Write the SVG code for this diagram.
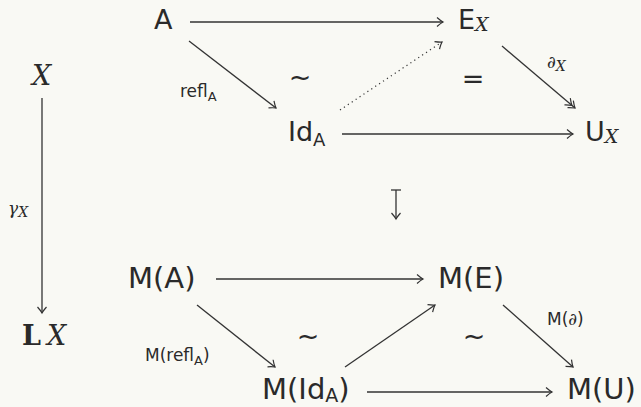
<svg xmlns="http://www.w3.org/2000/svg" width="641" height="407" viewBox="0 0 641 407">
<defs>
<style>
.bg{fill:#f9f9f4}
.t{font-family:"DejaVu Sans","Noto Sans",sans-serif;font-size:27px;fill:#2a2a2a}
.b{font-size:29px}
.s{font-family:"DejaVu Sans","Noto Sans",sans-serif;font-size:17px;fill:#2a2a2a}
.cal{font-family:"DejaVu Serif","Liberation Serif",serif;font-style:italic}
.e{stroke:#333;stroke-width:1.3;fill:none}
.dot{stroke:#333;stroke-width:1.2;fill:none;stroke-dasharray:1.2 3.5}
</style>
<marker id="ah" viewBox="-8 -6 10 12" markerWidth="10" markerHeight="12" refX="0" refY="0" orient="auto" markerUnits="userSpaceOnUse">
<path d="M-6,-4.5 Q-2,-1 0,0 Q-2,1 -6,4.5" stroke="#333" stroke-width="1.2" fill="none"/>
</marker>
<marker id="ah2" viewBox="-12 -6 14 12" markerWidth="14" markerHeight="12" refX="0" refY="0" orient="auto" markerUnits="userSpaceOnUse">
<path d="M-6,-4.5 Q-2,-1 0,0 Q-2,1 -6,4.5 M-10,-4.5 Q-6,-1 -4,0 Q-6,1 -10,4.5" stroke="#333" stroke-width="1.2" fill="none"/>
</marker>
</defs>
<rect class="bg" x="0" y="0" width="641" height="407"/>

<g id="connectors">
<line class="e" x1="190" y1="22" x2="443" y2="22" marker-end="url(#ah)"/>
<line class="e" x1="189" y1="41" x2="276" y2="108" marker-end="url(#ah)"/>
<line class="dot" x1="340" y1="110" x2="442" y2="42" marker-end="url(#ah)"/>
<line class="e" x1="342" y1="134" x2="573" y2="134" marker-end="url(#ah)"/>
<line class="e" x1="502" y1="46" x2="575" y2="108" marker-end="url(#ah2)"/>
<line class="e" x1="42" y1="98" x2="42" y2="313" marker-end="url(#ah)"/>
<line class="e" x1="396" y1="190" x2="396" y2="219" marker-end="url(#ah)"/>
<line class="e" x1="391" y1="190" x2="401" y2="190"/>
<line class="e" x1="216" y1="279" x2="423" y2="279" marker-end="url(#ah)"/>
<line class="e" x1="197" y1="305" x2="275" y2="367" marker-end="url(#ah)"/>
<line class="e" x1="345" y1="367" x2="435" y2="305" marker-end="url(#ah)"/>
<line class="e" x1="367" y1="392" x2="552" y2="392" marker-end="url(#ah)"/>
<line class="e" x1="503" y1="305" x2="573" y2="367" marker-end="url(#ah)"/>
</g>

<g id="labels">
<text class="s" x="180" y="97">refl<tspan font-size="13" dy="4">A</tspan></text>
<text class="s" x="547" y="68"><tspan class="cal">∂</tspan><tspan class="cal" font-size="14" dy="3">X</tspan></text>
<text class="s" x="8" y="214"><tspan class="cal">γ</tspan><tspan class="cal" font-size="14" dy="3">X</tspan></text>
<text class="s" x="145" y="361">M(refl<tspan font-size="13" dy="4">A</tspan><tspan dy="-4">)</tspan></text>
<text class="s" x="547" y="325">M(<tspan class="cal">∂</tspan>)</text>
<text class="t" x="300" y="86" text-anchor="middle" font-size="22">~</text>
<text class="t" x="473" y="88" text-anchor="middle">=</text>
<text class="t" x="308" y="345" text-anchor="middle" font-size="22">~</text>
<text class="t" x="474" y="345" text-anchor="middle" font-size="22">~</text>
</g>

<g id="node-A"><text class="t" x="154" y="29">A</text></g>
<g id="node-EX"><text class="t" x="458" y="29">E<tspan class="cal" font-size="19" dy="2">X</tspan></text></g>
<g id="node-IdA"><text class="t" x="288" y="141">Id<tspan font-size="18" dy="5">A</tspan></text></g>
<g id="node-UX"><text class="t" x="585" y="141">U<tspan class="cal" font-size="19" dy="2">X</tspan></text></g>
<g id="node-X"><text class="t cal" x="32" y="85">X</text></g>
<g id="node-LX"><text class="t" x="22" y="345"><tspan font-family="DejaVu Serif" font-weight="bold">L</tspan><tspan class="cal" dx="6">X</tspan></text></g>
<g id="node-MA"><text class="t b" x="128" y="288">M(A)</text></g>
<g id="node-ME"><text class="t b" x="438" y="288">M(E)</text></g>
<g id="node-MIdA"><text class="t b" x="262" y="399">M(Id<tspan font-size="19" dy="3">A</tspan><tspan dy="-3">)</tspan></text></g>
<g id="node-MU"><text class="t b" x="567" y="399">M(U)</text></g>
</svg>
